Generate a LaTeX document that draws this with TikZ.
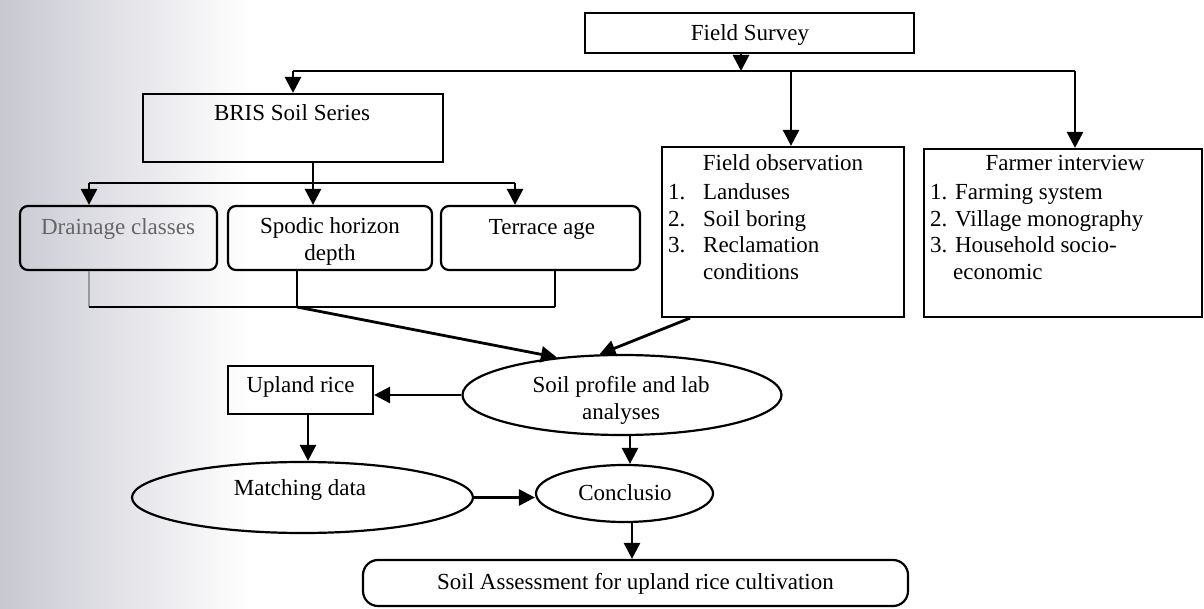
\documentclass[tikz,border=0pt]{standalone}
\usepackage{fontspec}
\setmainfont{Liberation Serif}
\usetikzlibrary{arrows.meta,shapes.geometric}
\definecolor{scangray}{RGB}{200,200,210}
\begin{document}
\begin{tikzpicture}[x=1pt,y=-1pt,
  font=\fontsize{23}{27}\selectfont,
  box/.style={draw, rectangle, line width=2.2pt, inner sep=0pt},
  rbox/.style={box, rounded corners=8pt},
  rbox2/.style={box, rounded corners=15pt},
  ell/.style={draw, ellipse, line width=2.2pt, inner sep=0pt},
  txt/.style={inner sep=0pt, text height=16pt, text depth=5pt},
  ln/.style={line width=2.8pt},
  arr/.style={ln, -{Triangle[length=16pt,width=16pt]}}]
\useasboundingbox (0,0) rectangle (1204,609);
\shade[left color=scangray, right color=white] (0,0) rectangle (250,609);

% nodes
\node[box, minimum width=329pt, minimum height=40pt] (fs) at (749.5,33) {};
\node[txt] (fs-t) at (750,35) {Field Survey};

\node[box, minimum width=300pt, minimum height=68pt] (bris) at (293,128) {};
\node[txt] (bris-t) at (292,115) {BRIS Soil Series};

\node[rbox, minimum width=197pt, minimum height=64pt] (drain) at (118.5,238) {};
\node[txt, text=black!60] (drain-t) at (118,229) {Drainage classes};

\node[rbox, minimum width=204pt, minimum height=64pt] (spodic) at (330,238) {};
\node[inner sep=0pt, align=center] (spodic-t) at (330,241) {Spodic horizon\\depth};

\node[rbox, minimum width=199pt, minimum height=64pt] (terr) at (540.5,238) {};
\node[txt] (terr-t) at (542,229) {Terrace age};

\node[box, minimum width=242pt, minimum height=170pt] (fobs) at (783,232) {};
\node[txt] (fobs-t) at (783,165) {Field observation};
\node[txt, anchor=west] (fobs-1) at (668,194) {\makebox[35pt][l]{1.}Landuses};
\node[txt, anchor=west] (fobs-2) at (668,221) {\makebox[35pt][l]{2.}Soil boring};
\node[txt, anchor=west] (fobs-3) at (668,247) {\makebox[35pt][l]{3.}Reclamation};
\node[txt, anchor=west] (fobs-4) at (703,274) {conditions};

\node[box, minimum width=278pt, minimum height=168pt] (farmer) at (1063,233) {};
\node[txt] (farm-t) at (1065,165) {Farmer interview};
\node[txt, anchor=west] (farm-1) at (930,194) {1. Farming system};
\node[txt, anchor=west] (farm-2) at (930,221) {2. Village monography};
\node[txt, anchor=west] (farm-3) at (930,247) {3. Household socio-};
\node[txt, anchor=west] (farm-4) at (953,274) {economic};

\node[ell, minimum width=319pt, minimum height=80pt] (soil) at (622,395) {};
\node[inner sep=0pt, align=center] (soil-t) at (621,400) {Soil profile and lab\\analyses};

\node[box, minimum width=145pt, minimum height=48pt] (up) at (300.5,390) {};
\node[txt] (up-t) at (300.5,387) {Upland rice};

\node[ell, minimum width=341pt, minimum height=71pt] (match) at (302.5,497.5) {};
\node[txt] (match-t) at (300,490) {Matching data};

\node[ell, minimum width=177pt, minimum height=57pt] (concl) at (624.5,493.5) {};
\node[txt] (concl-t) at (625,495) {Conclusio};

\node[rbox2, minimum width=545pt, minimum height=46pt] (assess) at (635.5,583) {};
\node[txt] (assess-t) at (635.5,584) {Soil Assessment for upland rice cultivation};

% connectors
\coordinate (fsj) at (741,71);
\coordinate (tl) at (293,71);
\coordinate (tr) at (1075,71);
\coordinate (fo) at (791,71);
\draw[arr] (fs.south -| fsj) -- (fsj);
\draw[ln] (tl) -- (tr);
\draw[arr] (tl) -- (bris.north -| tl);
\draw[arr] (fo) -- (fobs.north -| fo);
\draw[arr] (tr) -- (farmer.north -| tr);

\coordinate (bs) at (313,183);
\coordinate (bl) at (89,183);
\coordinate (br) at (515,183);
\draw[arr] (bris.south -| bs) -- (spodic.north -| bs);
\draw[ln] (bl) -- (br);
\draw[arr] (bl) -- (drain.north -| bl);
\draw[arr] (br) -- (terr.north -| br);

\coordinate (ml) at (89,307);
\coordinate (mm) at (297,307);
\coordinate (mr) at (555,307);
\draw[ln, draw=black!40] (drain.south -| ml) -- (ml);
\draw[ln] (ml) -- (mr);
\draw[ln] (spodic.south -| mm) -- (mm);
\draw[ln] (terr.south -| mr) -- (mr);
\draw[arr] (mm) -- (soil.150);

\coordinate (fb) at (690,0);
\draw[arr] (fobs.south -| fb) -- (soil.119);

\draw[arr] (soil.west) -- (soil.west -| up.east);
\coordinate (us) at (308,0);
\draw[arr] (up.south -| us) -- (match.north -| us);
\coordinate (sc) at (630,0);
\draw[arr] (soil.south -| sc) -- (concl.north -| sc);
\draw[arr] (match.east) -- (match.east -| concl.west);
\coordinate (cc) at (632,0);
\draw[arr] (concl.south -| cc) -- (assess.north -| cc);
\end{tikzpicture}
\end{document}
